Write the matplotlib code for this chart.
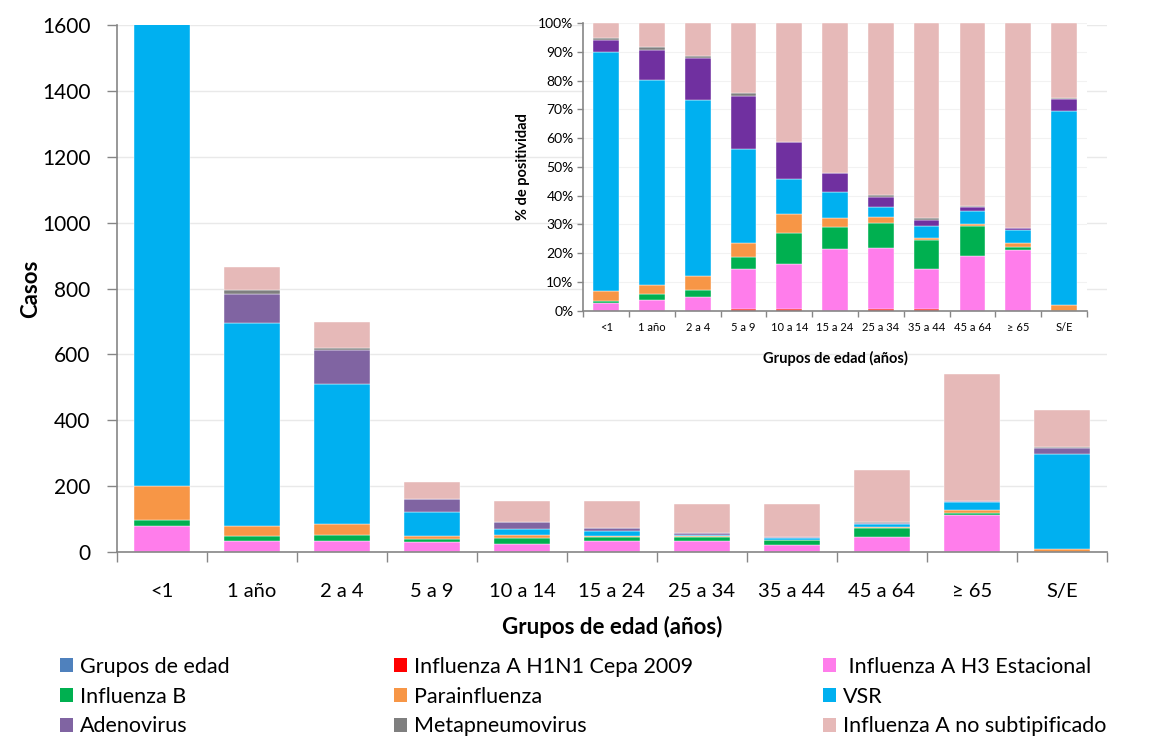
import matplotlib

matplotlib.use("Agg")

import matplotlib.pyplot as plt
import numpy as np
from matplotlib.patches import Patch


# cases per age group, one list per virus (stacked bottom to top)
categories = ["<1", "1 año", "2 a 4", "5 a 9", "10 a 14", "15 a 24", "25 a 34",
              "35 a 44", "45 a 64", "≥ 65", "S/E"]
grupos = [0, 0, 0, 0, 0, 0, 0, 0, 0, 0, 0]
h1n1 = [0, 0, 0, 1, 1, 0, 1, 1, 0, 0, 0]
h3 = [80, 33, 33, 30, 24, 33, 31, 20, 47, 113, 0]
flu_b = [18, 16, 18, 9, 17, 12, 13, 15, 26, 6, 0]
parainf = [103, 29, 33, 10, 10, 5, 3, 1, 2, 8, 8]
vsr = [2460, 617, 427, 70, 19, 14, 5, 6, 11, 25, 290]
adeno = [124, 89, 103, 40, 20, 10, 5, 3, 3, 3, 19]
metap = [15, 11, 5, 2, 0, 0, 1, 1, 1, 1, 1]
flu_a_ns = [156, 70, 79, 52, 64, 81, 88, 99, 158, 384, 112]

series_names = ["Grupos de edad", "Influenza A H1N1 Cepa 2009", " Influenza A H3 Estacional",
                "Influenza B", "Parainfluenza", "VSR", "Adenovirus", "Metapneumovirus",
                "Influenza A no subtipificado"]
series = [grupos, h1n1, h3, flu_b, parainf, vsr, adeno, metap, flu_a_ns]

MAIN_COLORS = ["#4F81BD", "#FF0000", "#FF7DEB", "#00B050", "#F79646", "#00B0F0",
               "#8064A2", "#7F7F7F", "#E6B9B8"]
INSET_COLORS = ["#4F81BD", "#FF0000", "#FF7DEB", "#00B050", "#F79646", "#00B0F0",
                "#7030A0", "#7F7F7F", "#E6B9B8"]
AXIS_GREY = "#868686"
GRID = "#E9E9E9"


def stacked(ax, values, colors, width):
    x = np.arange(len(categories))
    bottom = np.zeros(len(categories))
    for vals, color in zip(values, colors):
        vals = np.asarray(vals, dtype=float)
        ax.bar(x, vals, width, bottom=bottom, color=color, edgecolor="white",
               linewidth=0.3, zorder=2)
        bottom += vals


def style_axis(ax, tick_len, label_pad, label_size):
    n = len(categories)
    ax.set_xlim(-0.5, n - 0.5)
    ax.set_xticks(np.arange(n))
    ax.set_xticklabels(categories)
    ax.set_xticks(np.arange(n + 1) - 0.5, minor=True)
    ax.tick_params(axis="x", which="major", length=0, pad=label_pad, labelsize=label_size)
    ax.tick_params(axis="x", which="minor", length=tick_len, width=1.0, color=AXIS_GREY,
                   direction="out")
    ax.tick_params(axis="y", length=tick_len, width=1.0, color=AXIS_GREY, direction="out")
    for side in ("top", "right"):
        ax.spines[side].set_visible(False)
    for side in ("left", "bottom"):
        ax.spines[side].set_color(AXIS_GREY)
        ax.spines[side].set_linewidth(1.2)
    ax.set_axisbelow(True)


plt.rcParams.update({"font.family": ["Lato", "DejaVu Sans"], "axes.unicode_minus": False})

fig = plt.figure(figsize=(11.55, 7.36), dpi=100)
fig.patch.set_facecolor("white")

# main chart
ax = fig.add_axes([0.1013, 0.25, 0.8571, 0.716])
stacked(ax, series, MAIN_COLORS, 0.63)
ax.set_ylim(0, 1600)
ax.set_yticks(np.arange(0, 1601, 200))
ax.grid(axis="y", color=GRID, linewidth=1.0)
style_axis(ax, 7, 22, 14.5)
ax.tick_params(axis="y", labelsize=15, pad=12)
ax.set_ylabel("Casos", fontsize=16, fontweight="bold", labelpad=1)
ax.set_xlabel("Grupos de edad (años)", fontsize=16, fontweight="bold", labelpad=12)

# inset: share of positives per age group
totals = np.sum(np.array(series, dtype=float), axis=0)
shares = [np.asarray(s, dtype=float) / totals for s in series]
axi = fig.add_axes([0.505, 0.578, 0.436, 0.3904])
axi.patch.set_facecolor("white")
stacked(axi, shares, INSET_COLORS, 0.56)
axi.set_ylim(0, 1)
axi.set_yticks(np.arange(0, 1.01, 0.1))
axi.set_yticklabels([f"{int(round(v * 100))}%" for v in np.arange(0, 1.01, 0.1)])
axi.grid(axis="y", color="#F2F2F2", linewidth=0.8)
style_axis(axi, 4, 8, 8)
axi.tick_params(axis="y", labelsize=10, pad=3)
axi.set_ylabel("% de positividad", fontsize=10.5, fontweight="bold", labelpad=6)
axi.set_xlabel("Grupos de edad (años)", fontsize=10.5, fontweight="bold", labelpad=13)

# legend, three columns laid out row by row as in the original
handles = [Patch(facecolor=c, edgecolor="none") for c in MAIN_COLORS]
col_x = [60, 394, 823]
for col in range(3):
    idx = [col, col + 3, col + 6]
    fig.legend([handles[i] for i in idx], [series_names[i] for i in idx],
               loc="upper left", bbox_to_anchor=(col_x[col] / 1155, 1 - 657 / 736),
               frameon=False, fontsize=15.5, handlelength=0.62, handleheight=0.62,
               handletextpad=0.3, labelspacing=0.45, borderaxespad=0, borderpad=0)

fig.savefig("out.png", dpi=100, facecolor="white")
